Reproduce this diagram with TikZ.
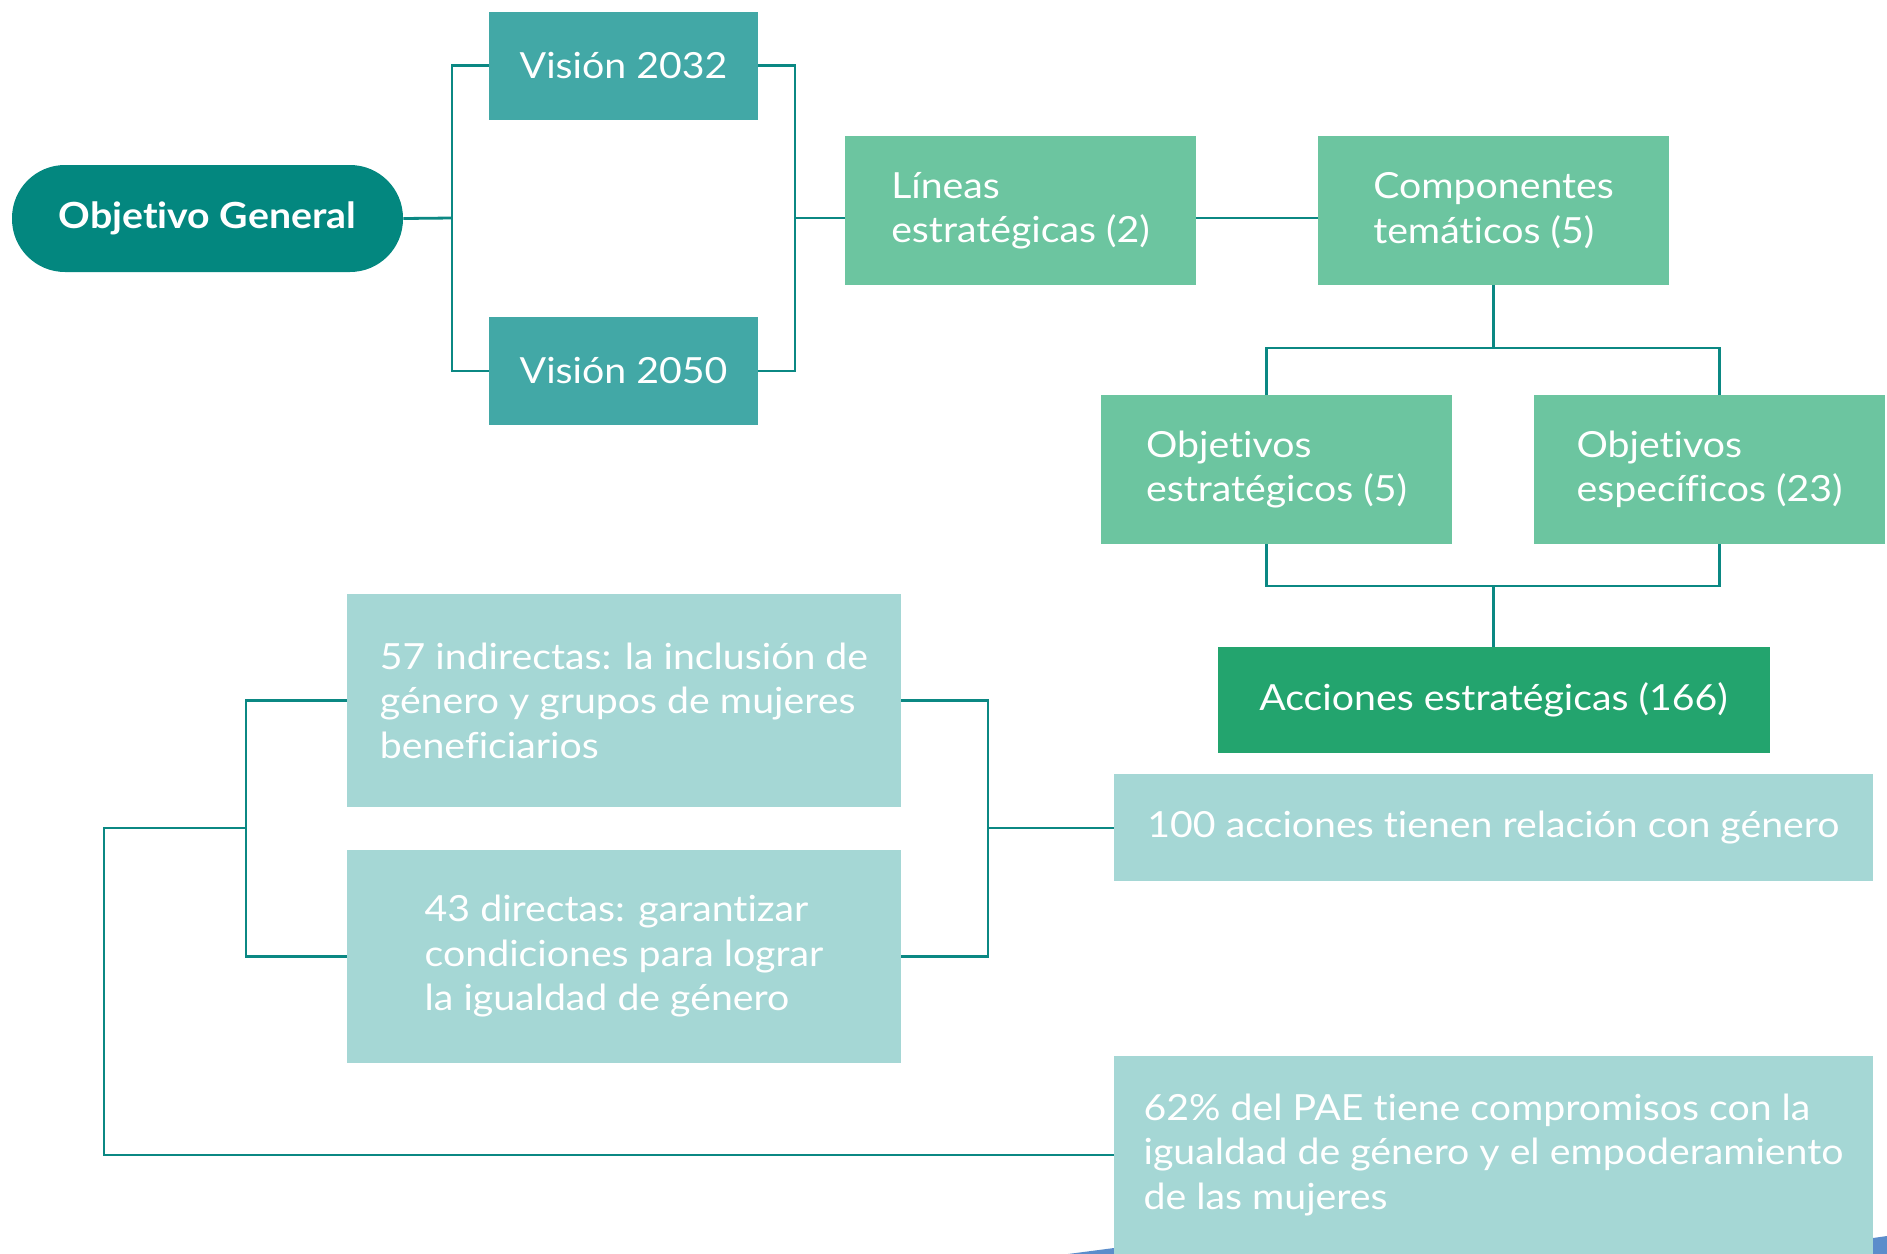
\documentclass[tikz,border=0pt]{standalone}
\usepackage{fontspec}
\setmainfont{Lato}[FakeStretch=1.09, Ligatures=NoCommon]
\usepackage{xcolor}
\usetikzlibrary{positioning}

\definecolor{tealosc}{HTML}{03877F}
\definecolor{tealmed}{HTML}{42A8A6}
\definecolor{verde}{HTML}{6CC5A0}
\definecolor{verdeosc}{HTML}{23A46E}
\definecolor{celeste}{HTML}{A5D7D5}
\definecolor{linea}{HTML}{0B8883}
\definecolor{azul}{HTML}{5B8DCB}

\tikzset{
  conn/.style={draw=linea, line width=1.4pt},
  caja/.style={rectangle, inner sep=0pt, text=white, align=left,
    font=\fontsize{18}{22.25}\selectfont},
  vision/.style={caja, fill=tealmed, minimum width=134.5pt, minimum height=54pt},
  verdebox/.style={caja, fill=verde, minimum width=175.5pt, minimum height=74.5pt},
  clarobox/.style={caja, fill=celeste, minimum width=277pt, minimum height=106.5pt}
}

\begin{document}
\begin{tikzpicture}[x=0.5pt, y=-0.5pt]
        \useasboundingbox (0,0) rectangle (1887,1254);

        % blue piece at the bottom edge
        \fill[azul] (1068,1254) -- (1114,1248) -- (1873,1238) -- (1887,1236) -- (1887,1254) -- cycle;

        % Boxes
        \node[caja, fill=tealosc, rounded corners=26.5pt, minimum width=195.5pt, minimum height=53.5pt,
              font=\bfseries\fontsize{18}{22.25}\selectfont] (og) at (207.5,218.5) {Objetivo General};
        \node[vision] (v32) at (623.5,65.5) {Visión 2032};
        \node[vision] (v50) at (623.5,371) {Visión 2050};
        \node[verdebox] (lin) at (1020.5,210.5) {Líneas\\estratégicas (2)};
        \node[verdebox] (comp) at (1493.5,210.5) {Componentes\\temáticos (5)};
        \node[verdebox] (oe) at (1276.5,469.5) {Objetivos\\estratégicos (5)};
        \node[verdebox] (os) at (1709.5,469.5) {Objetivos\\específicos (23)};
        \node[caja, fill=verdeosc, minimum width=276pt, minimum height=53pt] (acc) at (1493.5,700) {Acciones estratégicas (166)};
        \node[caja, fill=celeste, minimum width=379.5pt, minimum height=53.5pt] (cien) at (1493.5,827.5) {100 acciones tienen relación con género};
        \node[caja, fill=celeste, minimum width=379.5pt, minimum height=99pt] (sesenta) at (1493.5,1155)
              {62\% del PAE tiene compromisos con la\\igualdad de género y el empoderamiento\\de las mujeres};
        \node[clarobox] (ind) at (624,700.5) {57 indirectas: la inclusión de\\género y grupos de mujeres\\beneficiarios};
        \node[clarobox] (dir) at (624,956.5) {43 directas: garantizar\\condiciones para lograr\\la igualdad de género};

        % Spines of the brackets
        \coordinate (ba) at (452,218);
        \coordinate (bb) at (795,218);
        \coordinate (ca) at (1493.5,348);
        \coordinate (cb) at (1493.5,586);
        \coordinate (la) at (246,828);
        \coordinate (lb) at (988,828);
        \coordinate (lc) at (104,828);

        % Connectors
        \draw[conn] (og.east) -- (ba);
        \draw[conn] (v32.west) -| (ba) |- (v50.west);
        \draw[conn] (v32.east) -| (bb) |- (v50.east);
        \draw[conn] (bb) -- (lin.west |- bb);
        \draw[conn] (lin.east |- bb) -- (comp.west |- bb);
        \draw[conn] (comp.south) -- (ca);
        \draw[conn] ([xshift=-5pt]oe.north) |- (ca) -| ([xshift=5pt]os.north);
        \draw[conn] ([xshift=-5pt]oe.south) |- (cb) -| ([xshift=5pt]os.south);
        \draw[conn] (cb) -- (acc.north);
        \draw[conn] (ind.west) -| (la) |- (dir.west);
        \draw[conn] (ind.east) -| (lb) |- (dir.east);
        \draw[conn] (lb) -- (cien.west |- lb);
        \draw[conn] (la) -- (lc) |- (sesenta.west);
    \end{tikzpicture}
\end{document}
